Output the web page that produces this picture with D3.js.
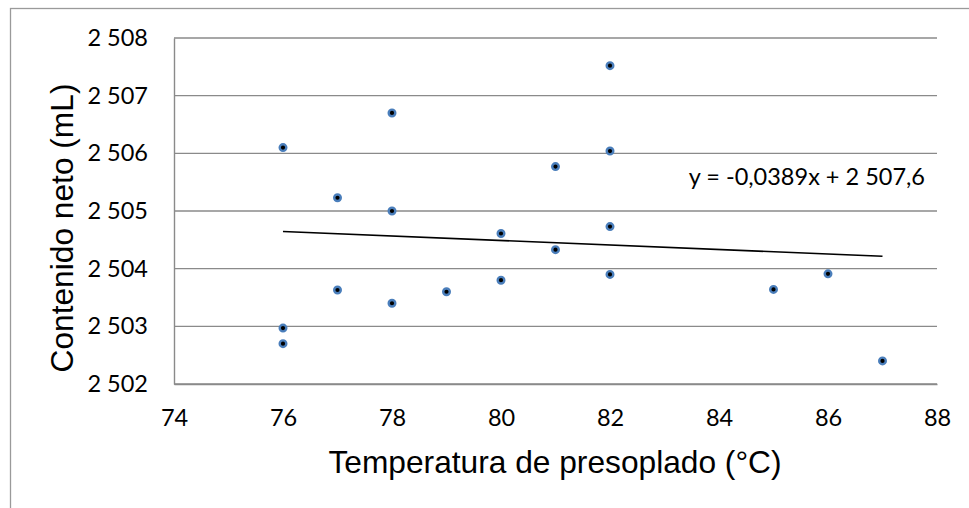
<!DOCTYPE html>
<html><head><meta charset="utf-8">
<script src="https://cdn.jsdelivr.net/npm/d3@7"></script>
<style>body{margin:0;background:#fff}svg{display:block}</style>
</head><body>
<script>
const temps = [76, 76, 76, 77, 77, 78, 78, 78, 79, 80, 80, 81, 81, 82, 82, 82, 82, 85, 86, 87];
const volumes = [2506.1, 2502.97, 2502.7, 2505.23, 2503.63, 2506.7, 2505.0, 2503.4, 2503.6, 2504.61, 2503.8, 2505.77, 2504.33, 2507.52, 2506.04, 2504.73, 2503.9, 2503.64, 2503.91, 2502.4];
const xTicks = [74, 76, 78, 80, 82, 84, 86, 88];
const yTicks = [2502, 2503, 2504, 2505, 2506, 2507, 2508];
const trend = {slope: -0.0389, intercept: 2507.6, from: 76, to: 87};
const equationLabel = "y = -0,0389x + 2 507,6";
const xTitle = "Temperatura de presoplado (°C)";
const yTitle = "Contenido neto (mL)";

const W = 969, H = 508;
const svg = d3.select("body").append("svg").attr("width", W).attr("height", H);
const x = d3.scaleLinear().domain([74, 88]).range([174, 937]);
const y = d3.scaleLinear().domain([2502, 2508]).range([384, 38]);
const fmt = v => d3.format(",")(v).replace(",", " ");
const tickFont = "Lato, 'Open Sans', sans-serif";

// outer frame
svg.append("rect").attr("x", 10.5).attr("y", 8.5).attr("width", 1000).attr("height", 600)
  .attr("fill", "none").attr("stroke", "#9a9a9a").attr("stroke-width", 1.3);

// gridlines
svg.append("g").selectAll("line").data(yTicks).join("line")
  .attr("x1", x(74)).attr("x2", x(88)).attr("y1", d => y(d)).attr("y2", d => y(d))
  .attr("stroke", "#8a8a8a").attr("stroke-width", 1.4);

// y axis
const ya = d3.axisLeft(y).tickValues(yTicks).tickFormat(fmt).tickSize(0).tickPadding(26);
const yg = svg.append("g").attr("transform", `translate(${x(74)},0)`).call(ya);
yg.select(".domain").attr("stroke", "#8a8a8a").attr("stroke-width", 1.4);
yg.selectAll("text").attr("font-family", tickFont).attr("font-size", 23.5).attr("fill", "#000");

// x axis
const xa = d3.axisBottom(x).tickValues(xTicks).tickFormat(d3.format("d")).tickSize(0).tickPadding(25);
const xg = svg.append("g").attr("transform", `translate(0,${y(2502)})`).call(xa);
xg.select(".domain").attr("stroke", "#8a8a8a").attr("stroke-width", 1.4);
xg.selectAll("text").attr("font-family", tickFont).attr("font-size", 23.5).attr("fill", "#000");

// trend line
svg.append("line")
  .attr("x1", x(trend.from)).attr("y1", y(trend.slope * trend.from + trend.intercept))
  .attr("x2", x(trend.to)).attr("y2", y(trend.slope * trend.to + trend.intercept))
  .attr("stroke", "#000").attr("stroke-width", 1.6);

// points
svg.append("g").selectAll("circle").data(temps.map((t, i) => [t, volumes[i]])).join("circle")
  .attr("cx", d => x(d[0])).attr("cy", d => y(d[1])).attr("r", 3.3)
  .attr("fill", "#000").attr("stroke", "#4a7ebb").attr("stroke-width", 2.4);

// equation
svg.append("text").attr("x", 925).attr("y", 185).attr("text-anchor", "end")
  .attr("font-family", tickFont).attr("font-size", 23.5).text(equationLabel);

// titles
svg.append("text").attr("x", 555).attr("y", 473).attr("text-anchor", "middle")
  .attr("font-family", "'Liberation Sans', Arial, sans-serif").attr("font-size", 31.7).text(xTitle);
svg.append("text").attr("transform", "translate(73,228) rotate(-90)").attr("text-anchor", "middle")
  .attr("font-family", "'Liberation Sans', Arial, sans-serif").attr("font-size", 31.7).text(yTitle);
</script>
</body></html>
